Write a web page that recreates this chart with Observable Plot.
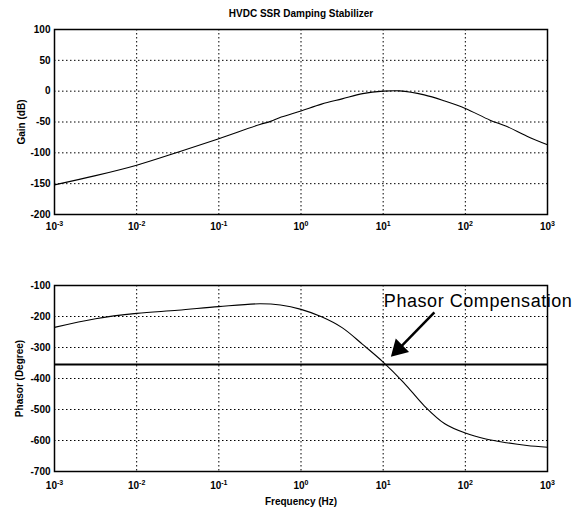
<!DOCTYPE html>
<html><head><meta charset="utf-8">
<script src="https://cdn.jsdelivr.net/npm/d3@7"></script>
<script src="https://cdn.jsdelivr.net/npm/@observablehq/plot@0.6"></script>
<style>
body{margin:0;background:#fff;}
#chart{width:579px;height:510px;font-family:"Liberation Sans",Arial,sans-serif;}
#chart svg{display:block;background:#fff;}
</style></head><body><div id="chart"></div>
<script>
const title = "HVDC SSR Damping Stabilizer";
const gainLabel = "Gain (dB)";
const phaseLabel = "Phasor (Degree)";
const xLabel = "Frequency (Hz)";
const annotation = "Phasor Compensation";
const xTicks = [1e-3, 1e-2, 1e-1, 1, 10, 100, 1000];
const gainTicks = [100, 50, 0, -50, -100, -150, -200];
const phaseTicks = [-100, -200, -300, -400, -500, -600, -700];

const gainFreq = [0.001, 0.00316, 0.01, 0.0316, 0.1, 0.316, 0.427, 0.575, 1, 1.778, 3.162, 5.623, 10, 15.85, 31.62, 56.23, 100, 200, 316.2, 562.3, 1000];
const gainDb   = [-152, -137, -120, -99, -77, -54, -49, -42, -32, -21, -12.5, -4, 0, 0.5, -6, -16, -28, -47, -57, -73, -87];

const phaseFreq = [0.001, 0.00316, 0.01, 0.0316, 0.1, 0.316, 0.562, 1, 1.778, 3.162, 5.623, 10, 17.78, 31.62, 56.23, 100, 177.8, 316.2, 562.3, 1000];
const phaseDeg  = [-235, -207, -190, -180, -168, -159, -163, -177, -201, -236, -290, -347, -413, -488, -546, -576, -595, -607, -616, -622];

const compensationDeg = -355;
const arrowFrom = {f: 42, deg: -187};
const arrowTo = {f: 12.9, deg: -326};
const annotationAt = {f: 10.2, deg: -150};

const W = 579;
const font = '"Liberation Sans", Arial, sans-serif';
const expFmt = d => "10^" + Math.round(Math.log10(d));
const numFmt = d => String(d);
const grid = {stroke: "black", strokeOpacity: 1, strokeWidth: 1, strokeDasharray: "1.5,2.5"};

function supify(svg) {
  d3.select(svg).selectAll("g[aria-label='x-axis tick label'] text").each(function() {
    const t = this.textContent;
    const i = t.indexOf("^");
    if (i < 0) return;
    const base = t.slice(0, i), exp = t.slice(i + 1);
    const el = d3.select(this);
    el.text(null);
    el.append("tspan").text(base);
    el.append("tspan").attr("dy", "-0.45em").attr("font-size", "7px").text(exp);
  });
}

// arrow head: filled triangle just behind the tip (fraction along the shaft)
const headFrac = 0.15;
const lerpLog = (a, b, t) => Math.pow(10, Math.log10(a) + t * (Math.log10(b) - Math.log10(a)));
const headPos = {f: lerpLog(arrowTo.f, arrowFrom.f, headFrac), deg: arrowTo.deg + headFrac * (arrowFrom.deg - arrowTo.deg)};

const gainPlot = Plot.plot({
  width: W, height: 250,
  marginLeft: 54, marginRight: 32, marginTop: 29, marginBottom: 36,
  style: {fontFamily: font, fontSize: "10px", fontWeight: "bold", background: "#fff", color: "black"},
  x: {type: "log", domain: [1e-3, 1e3], ticks: xTicks, tickFormat: expFmt, tickSize: 0, tickPadding: 8, label: null},
  y: {domain: [-200, 100], ticks: gainTicks, tickFormat: numFmt, tickSize: 0, tickPadding: 4, label: gainLabel, labelAnchor: "center", labelArrow: "none", labelOffset: 37},
  marks: [
    Plot.gridX(xTicks, grid),
    Plot.gridY(gainTicks, grid),
    Plot.line(gainFreq.map((f, i) => ({f, v: gainDb[i]})), {x: "f", y: "v", stroke: "black", strokeWidth: 1.1, curve: "catmull-rom"}),
    Plot.frame({stroke: "black", strokeWidth: 1.5}),
    Plot.text([title], {frameAnchor: "top", dy: -20, text: d => d, fontSize: 10, fontWeight: "bold"})
  ]
});

const phasePlot = Plot.plot({
  width: W, height: 260,
  marginLeft: 54, marginRight: 32, marginTop: 35, marginBottom: 39,
  style: {fontFamily: font, fontSize: "10px", fontWeight: "bold", background: "#fff", color: "black", overflow: "visible"},
  x: {type: "log", domain: [1e-3, 1e3], ticks: xTicks, tickFormat: expFmt, tickSize: 0, tickPadding: 10, label: xLabel, labelAnchor: "center", labelArrow: "none", labelOffset: 33},
  y: {domain: [-700, -100], ticks: phaseTicks, tickFormat: numFmt, tickSize: 0, tickPadding: 4, label: phaseLabel, labelAnchor: "center", labelArrow: "none", labelOffset: 39},
  marks: [
    Plot.gridX(xTicks, grid),
    Plot.gridY(phaseTicks, grid),
    Plot.ruleY([compensationDeg], {stroke: "black", strokeWidth: 2}),
    Plot.line(phaseFreq.map((f, i) => ({f, v: phaseDeg[i]})), {x: "f", y: "v", stroke: "black", strokeWidth: 1.1, curve: "catmull-rom"}),
    Plot.frame({stroke: "black", strokeWidth: 1.5}),
    Plot.link([{}], {x1: () => arrowFrom.f, y1: () => arrowFrom.deg, x2: () => headPos.f, y2: () => headPos.deg, stroke: "black", strokeWidth: 2.5}),
    Plot.dot([{}], {x: () => headPos.f, y: () => headPos.deg, symbol: "triangle", r: 7, fill: "black", stroke: "none", rotate: 225}),
    Plot.text([annotation], {x: () => annotationAt.f, y: () => annotationAt.deg, text: d => d, textAnchor: "start", fontSize: 18, fontWeight: "normal", fill: "black", className: "annot"})
  ]
});

supify(gainPlot); supify(phasePlot);
d3.select(phasePlot).selectAll(".annot text").style("letter-spacing", "0.55px");
document.getElementById("chart").append(gainPlot, phasePlot);
</script></body></html>
